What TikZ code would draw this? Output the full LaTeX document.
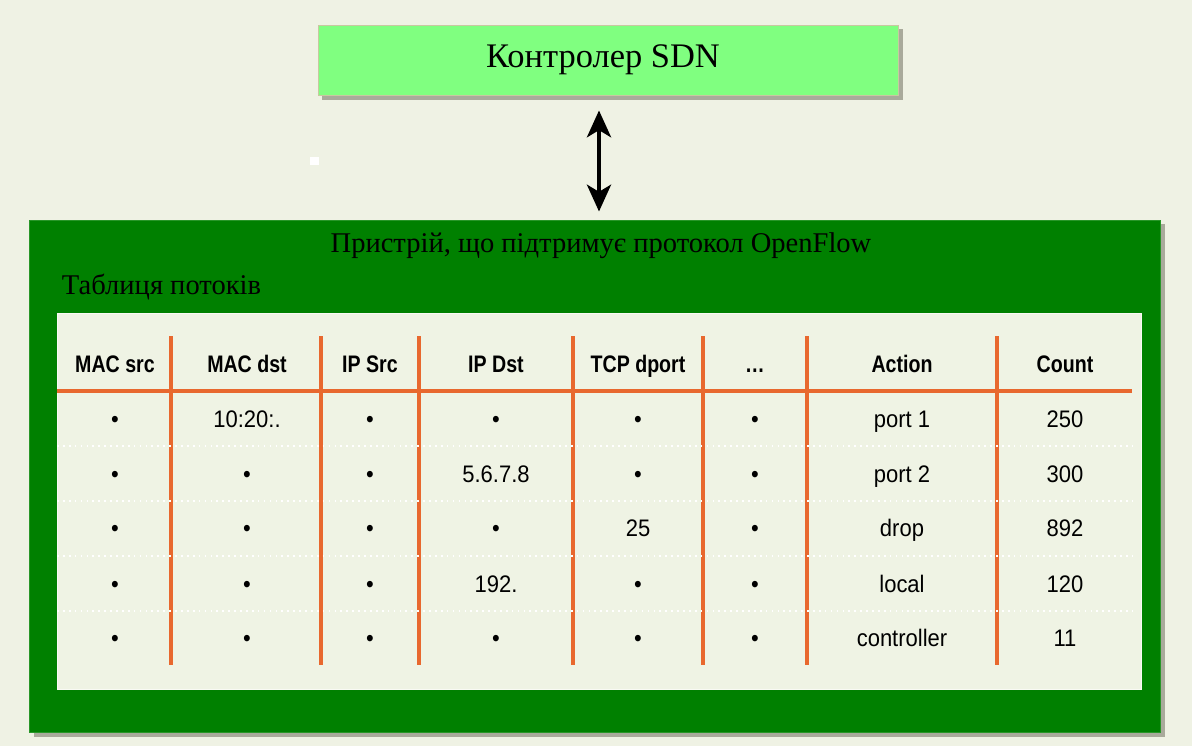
\documentclass[tikz,border=0pt]{standalone}
\usepackage{fontspec}
\setmainfont{Liberation Serif}
\newfontfamily\cellfont{Liberation Sans}[FakeStretch=0.92]
\newfontfamily\hdrfont{Liberation Sans}[FakeStretch=0.82]
\usetikzlibrary{arrows.meta}

\begin{document}
\begin{tikzpicture}[x=0.025cm, y=-0.025cm, >={Stealth[length=19pt, width=17pt, inset=5pt]}]

\definecolor{bgcolor}{RGB}{239, 242, 228}
\definecolor{ctrlcolor}{RGB}{128, 255, 128}
\definecolor{devcolor}{RGB}{0, 128, 0}
\definecolor{tablecolor}{RGB}{239, 243, 228}
\definecolor{linecolor}{RGB}{232, 104, 46}
\definecolor{shadowcolor}{RGB}{140, 140, 125}

\tikzset{
  ctrlbox/.style={fill=ctrlcolor, draw={rgb,255:red,200;green,200;blue,160}, line width=0.6pt,
    minimum width=14.5cm, minimum height=1.75cm, inner sep=0pt},
  devbox/.style={fill=devcolor, draw={rgb,255:red,40;green,150;blue,40}, line width=0.6pt,
    minimum width=28.25cm, minimum height=12.8cm, inner sep=0pt},
  hdr/.style={font=\hdrfont\bfseries\fontsize{17}{19}\selectfont, inner sep=0pt,
    text height=12.2pt, text depth=0pt},
  cell/.style={font=\cellfont\fontsize{17}{19}\selectfont, inner sep=0pt,
    text height=12.2pt, text depth=0pt},
  colline/.style={linecolor, line width=2.2pt},
  rowline/.style={white, line width=1.2pt, dash pattern=on 1.2pt off 3pt}
}

\useasboundingbox (0, 0) rectangle (1192, 746);
\fill[bgcolor] (0, 0) rectangle (1192, 746);

% controller
\fill[shadowcolor, opacity=0.7] (322, 29) rectangle (903, 100);
\node[ctrlbox] (ctrl) at (608, 60) {};
\node[font=\fontsize{24.5}{28}\selectfont] (ctrltext) at (603, 60) {Контролер SDN};

% OpenFlow device
\fill[shadowcolor, opacity=0.7] (34, 224) rectangle (1165, 737);
\node[devbox] (dev) at (595, 476) {};
\node[font=\fontsize{20.3}{24}\selectfont] (devtitle) at (601, 246) {Пристрій, що підтримує протокол OpenFlow};
\node[font=\fontsize{20.3}{24}\selectfont, anchor=west] (tabtitle) at (57, 287) {Таблиця потоків};

\draw[<->, line width=3.3pt, shorten <=15*0.025cm, shorten >=8*0.025cm]
  ([xshift=-0.225cm]ctrl.south) -- ([xshift=-0.225cm]ctrl.south |- dev.north);

% flow table
\fill[tablecolor, draw=white!60!tablecolor, line width=0.6pt] (57, 313) rectangle (1141, 689);
\foreach \x in {171, 321, 419, 573, 703, 807, 997}
  \draw[colline] (\x, 336) -- (\x, 665);
\draw[colline] (57, 391) -- (1132, 391);
\foreach \y in {446, 501, 556, 611}
  \draw[rowline] (57, \y) -- (1133, \y);

\foreach \x/\t [count=\c] in {115/MAC src, 247/MAC dst, 370/IP Src, 496/IP Dst, 638/TCP dport, 755/\dots, 902/Action, 1065/Count}
  \node[hdr] (h\c) at (\x, 364) {\t};

\foreach \x/\t [count=\c] in {115/•, 247/10:20:., 370/•, 496/•, 638/•, 755/•, 902/port 1, 1065/250}
  \node[cell] (ra\c) at (\x, 419) {\t};
\foreach \x/\t [count=\c] in {115/•, 247/•, 370/•, 496/5.6.7.8, 638/•, 755/•, 902/port 2, 1065/300}
  \node[cell] (rb\c) at (\x, 474) {\t};
\foreach \x/\t [count=\c] in {115/•, 247/•, 370/•, 496/•, 638/25, 755/•, 902/drop, 1065/892}
  \node[cell] (rc\c) at (\x, 528) {\t};
\foreach \x/\t [count=\c] in {115/•, 247/•, 370/•, 496/192., 638/•, 755/•, 902/local, 1065/120}
  \node[cell] (rd\c) at (\x, 584) {\t};
\foreach \x/\t [count=\c] in {115/•, 247/•, 370/•, 496/•, 638/•, 755/•, 902/controller, 1065/11}
  \node[cell] (re\c) at (\x, 638) {\t};

% stray white mark
\fill[white] (310, 157) rectangle (319, 165);

\end{tikzpicture}
\end{document}
